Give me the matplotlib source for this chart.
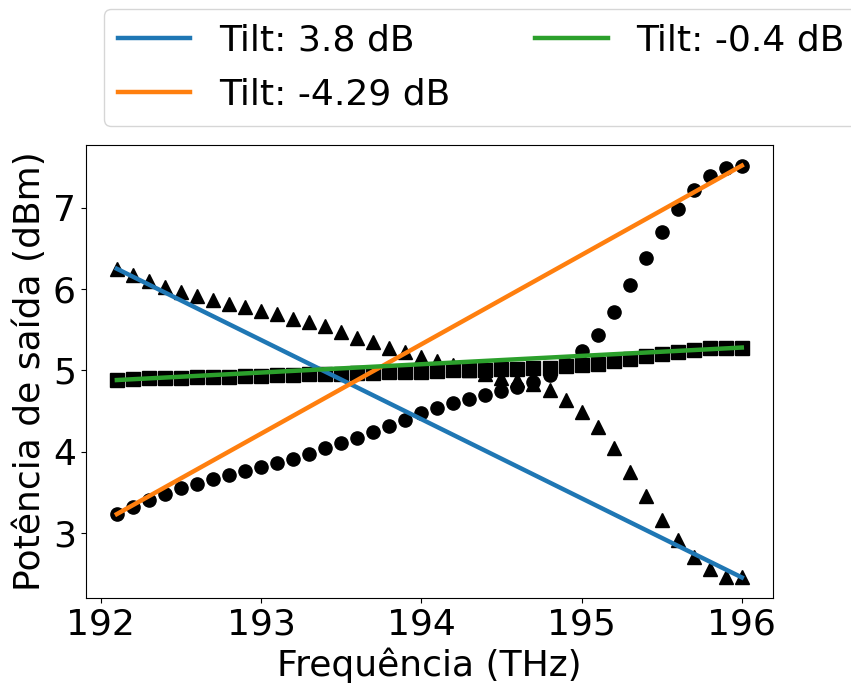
import numpy as np
from matplotlib import pyplot as plt

# frequency grid (THz)
freq = [192.1, 192.2, 192.3, 192.4, 192.5, 192.6, 192.7, 192.8, 192.9, 193.0,
        193.1, 193.2, 193.3, 193.4, 193.5, 193.6, 193.7, 193.8, 193.9, 194.0,
        194.1, 194.2, 194.3, 194.4, 194.5, 194.6, 194.7, 194.8, 194.9, 195.0,
        195.1, 195.2, 195.3, 195.4, 195.5, 195.6, 195.7, 195.8, 195.9, 196.0]

# output power (dBm) for the three gain profiles
p_tri = [6.25, 6.17, 6.10, 6.03, 5.96, 5.91, 5.86, 5.82, 5.78, 5.73,
         5.69, 5.63, 5.59, 5.54, 5.47, 5.40, 5.35, 5.28, 5.22, 5.16,
         5.11, 5.06, 5.00, 4.95, 4.90, 4.88, 4.83, 4.76, 4.64, 4.49,
         4.30, 4.04, 3.75, 3.45, 3.16, 2.91, 2.70, 2.55, 2.46, 2.45]

p_circ = [3.23, 3.32, 3.40, 3.48, 3.55, 3.60, 3.66, 3.71, 3.76, 3.81,
          3.86, 3.91, 3.97, 4.04, 4.10, 4.17, 4.24, 4.32, 4.39, 4.47,
          4.54, 4.60, 4.65, 4.70, 4.75, 4.79, 4.86, 4.94, 5.08, 5.24,
          5.43, 5.72, 6.05, 6.38, 6.70, 6.99, 7.22, 7.39, 7.49, 7.52]

p_sq = [4.88, 4.89, 4.90, 4.90, 4.91, 4.915, 4.92, 4.92, 4.93, 4.935,
        4.94, 4.945, 4.95, 4.955, 4.96, 4.965, 4.97, 4.975, 4.98, 4.98,
        4.99, 5.00, 5.00, 5.00, 5.01, 5.02, 5.03, 5.03, 5.05, 5.07,
        5.08, 5.11, 5.14, 5.18, 5.20, 5.23, 5.25, 5.27, 5.28, 5.28]

series = [p_tri, p_circ, p_sq]
markers = ['^', 'o', 's']
colors = ['tab:blue', 'tab:orange', 'tab:green']

fig = plt.figure(figsize=(8.51, 6.84), dpi=100)
ax = fig.add_axes([0.1006, 0.1257, 0.8078, 0.6623])

for p, m in zip(series, markers):
    ax.plot(freq, p, linestyle='none', marker=m, color='k', markersize=9.5)

# tilt = first minus last channel power, drawn as a straight line
for p, c in zip(series, colors):
    tilt = p[0] - p[-1]
    ax.plot([freq[0], freq[-1]], [p[0], p[-1]], color=c, linewidth=3.2,
            label="Tilt: {:g} dB".format(round(tilt, 2)))

ax.set_xticks([192, 193, 194, 195, 196])
ax.set_yticks([3, 4, 5, 6, 7])
ax.tick_params(labelsize=26)
ax.set_xlabel("Frequência (THz)", fontsize=26)
ax.set_ylabel("Potência de saída (dBm)", fontsize=26)

ax.legend(loc='lower left', bbox_to_anchor=(0.122, 0.816),
          bbox_transform=fig.transFigure, borderaxespad=0,
          ncol=2, fontsize=26, columnspacing=2.35, labelspacing=0.55)

plt.savefig("out.png", dpi=100)
